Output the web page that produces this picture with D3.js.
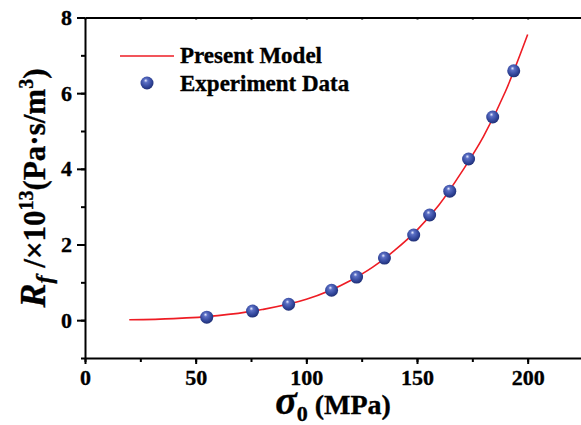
<!DOCTYPE html>
<html>
<head>
<meta charset="utf-8">
<script src="https://cdn.jsdelivr.net/npm/d3@7"></script>
<style>
  body { margin: 0; background: #fff; }
  text { font-family: "Liberation Serif", "Times New Roman", serif; font-weight: bold; stroke: #000; stroke-width: 0.35px; }
</style>
</head>
<body>
<div id="chart"></div>
<script>
// experiment points
const expStress = [55, 75.7, 92, 111.4, 122.7, 135.3, 148.5, 155.7, 164.8, 173.3, 184.2, 193.7];
const expRf = [0.08, 0.24, 0.42, 0.79, 1.14, 1.64, 2.25, 2.78, 3.41, 4.26, 5.37, 6.59];

// model curve, sampled from the figure
const modelStress = [20, 40, 60, 80, 100, 120, 130, 140, 150, 160, 170, 180, 190, 200];
const modelRf = [0.01, 0.04, 0.12, 0.28, 0.55, 1.05, 1.4, 1.85, 2.38, 3.05, 3.9, 4.85, 6.05, 7.55];

const xTicks = [0, 50, 100, 150, 200];
const yTicks = [0, 2, 4, 6, 8];

const width = 581, height = 425;
const mLeft = 85, mRight = 583, mTop = 17.5, mBottom = 358;

const svg = d3.select("#chart").append("svg")
    .attr("width", width)
    .attr("height", height);

const x = d3.scaleLinear().domain([0, 225]).range([mLeft, mRight]);
const y = d3.scaleLinear().domain([-1, 8]).range([mBottom, mTop]);

const defs = svg.append("defs");
const grad = defs.append("radialGradient")
    .attr("id", "ball")
    .attr("cx", "45%").attr("cy", "40%").attr("r", "60%")
    .attr("fx", "40%").attr("fy", "30%");
grad.append("stop").attr("offset", "0%").attr("stop-color", "#e8ecff");
grad.append("stop").attr("offset", "25%").attr("stop-color", "#5b6fc4");
grad.append("stop").attr("offset", "70%").attr("stop-color", "#33479c");
grad.append("stop").attr("offset", "100%").attr("stop-color", "#1f2f75");

// axes
const minorX = d3.range(0, 226, 25);
const minorY = d3.range(-1, 8.1, 1);

svg.append("g")
    .attr("transform", `translate(0,${mBottom})`)
    .call(d3.axisBottom(x).tickValues(minorX).tickSize(4).tickFormat(""))
    .call(g => g.select(".domain").remove())
    .call(g => g.selectAll("line").attr("stroke-width", 2));

svg.append("g")
    .attr("transform", `translate(0,${mBottom})`)
    .call(d3.axisBottom(x).tickValues(xTicks).tickSize(6).tickPadding(5).tickSizeOuter(0))
    .call(g => g.select(".domain").attr("stroke-width", 2))
    .call(g => g.selectAll("line").attr("stroke-width", 2))
    .call(g => g.selectAll("text").attr("font-size", 22).attr("fill", "#000"));

svg.append("g")
    .attr("transform", `translate(0,${mTop})`)
    .call(d3.axisBottom(x).tickValues(minorX).tickSize(2).tickFormat("").tickSizeOuter(0))
    .call(g => g.select(".domain").attr("stroke-width", 2))
    .call(g => g.selectAll("line").attr("stroke-width", 2));

svg.append("g")
    .attr("transform", `translate(${mLeft},0)`)
    .call(d3.axisLeft(y).tickValues(minorY).tickSize(4).tickFormat(""))
    .call(g => g.select(".domain").remove())
    .call(g => g.selectAll("line").attr("stroke-width", 2));

svg.append("g")
    .attr("transform", `translate(${mLeft},0)`)
    .call(d3.axisLeft(y).tickValues(yTicks).tickSize(8).tickPadding(5).tickSizeOuter(0))
    .call(g => g.select(".domain").attr("stroke-width", 2))
    .call(g => g.selectAll("line").attr("stroke-width", 2))
    .call(g => g.selectAll("text").attr("font-size", 22).attr("fill", "#000"));

// model curve
const model = modelStress.map((s, i) => [s, modelRf[i]]);
const line = d3.line()
    .x(d => x(d[0]))
    .y(d => y(d[1]))
    .curve(d3.curveMonotoneX);

svg.append("path")
    .datum(model)
    .attr("d", line)
    .attr("fill", "none")
    .attr("stroke", "#ee1c24")
    .attr("stroke-width", 1.6);

// experiment points
svg.selectAll("circle.exp")
    .data(expStress.map((s, i) => [s, expRf[i]]))
    .enter()
    .append("circle")
    .attr("class", "exp")
    .attr("cx", d => x(d[0]))
    .attr("cy", d => y(d[1]))
    .attr("r", 6.5)
    .attr("fill", "url(#ball)");

// legend
const leg = svg.append("g");
leg.append("line")
    .attr("x1", 120).attr("x2", 174)
    .attr("y1", 56).attr("y2", 56)
    .attr("stroke", "#ee1c24").attr("stroke-width", 1.6);
leg.append("text").attr("x", 180).attr("y", 63).attr("font-size", 23).text("Present Model");
leg.append("circle").attr("cx", 147).attr("cy", 83).attr("r", 6.5).attr("fill", "url(#ball)");
leg.append("text").attr("x", 180).attr("y", 91).attr("font-size", 23).text("Experiment Data");

// x title
const xt = svg.append("text")
    .attr("x", 333).attr("y", 414)
    .attr("text-anchor", "middle")
    .attr("font-size", 28);
xt.append("tspan").attr("font-style", "italic").attr("font-size", 40).text("σ");
xt.append("tspan").attr("dy", 7).attr("font-size", 22).text("0");
xt.append("tspan").attr("dy", -7).text(" (MPa)");

// y title
const yt = svg.append("text")
    .attr("transform", "translate(45,188) rotate(-90)")
    .attr("text-anchor", "middle")
    .attr("font-size", 31);
yt.append("tspan").attr("font-style", "italic").attr("font-size", 36).text("R");
yt.append("tspan").attr("font-style", "italic").attr("dy", 7).attr("font-size", 24).text("f");
yt.append("tspan").attr("dy", -7).text(" /×10");
yt.append("tspan").attr("dy", -12).attr("font-size", 20).text("13");
yt.append("tspan").attr("dy", 12).text("(Pa·s/m");
yt.append("tspan").attr("dy", -12).attr("font-size", 20).text("3");
yt.append("tspan").attr("dy", 12).text(")");
</script>
</body>
</html>
